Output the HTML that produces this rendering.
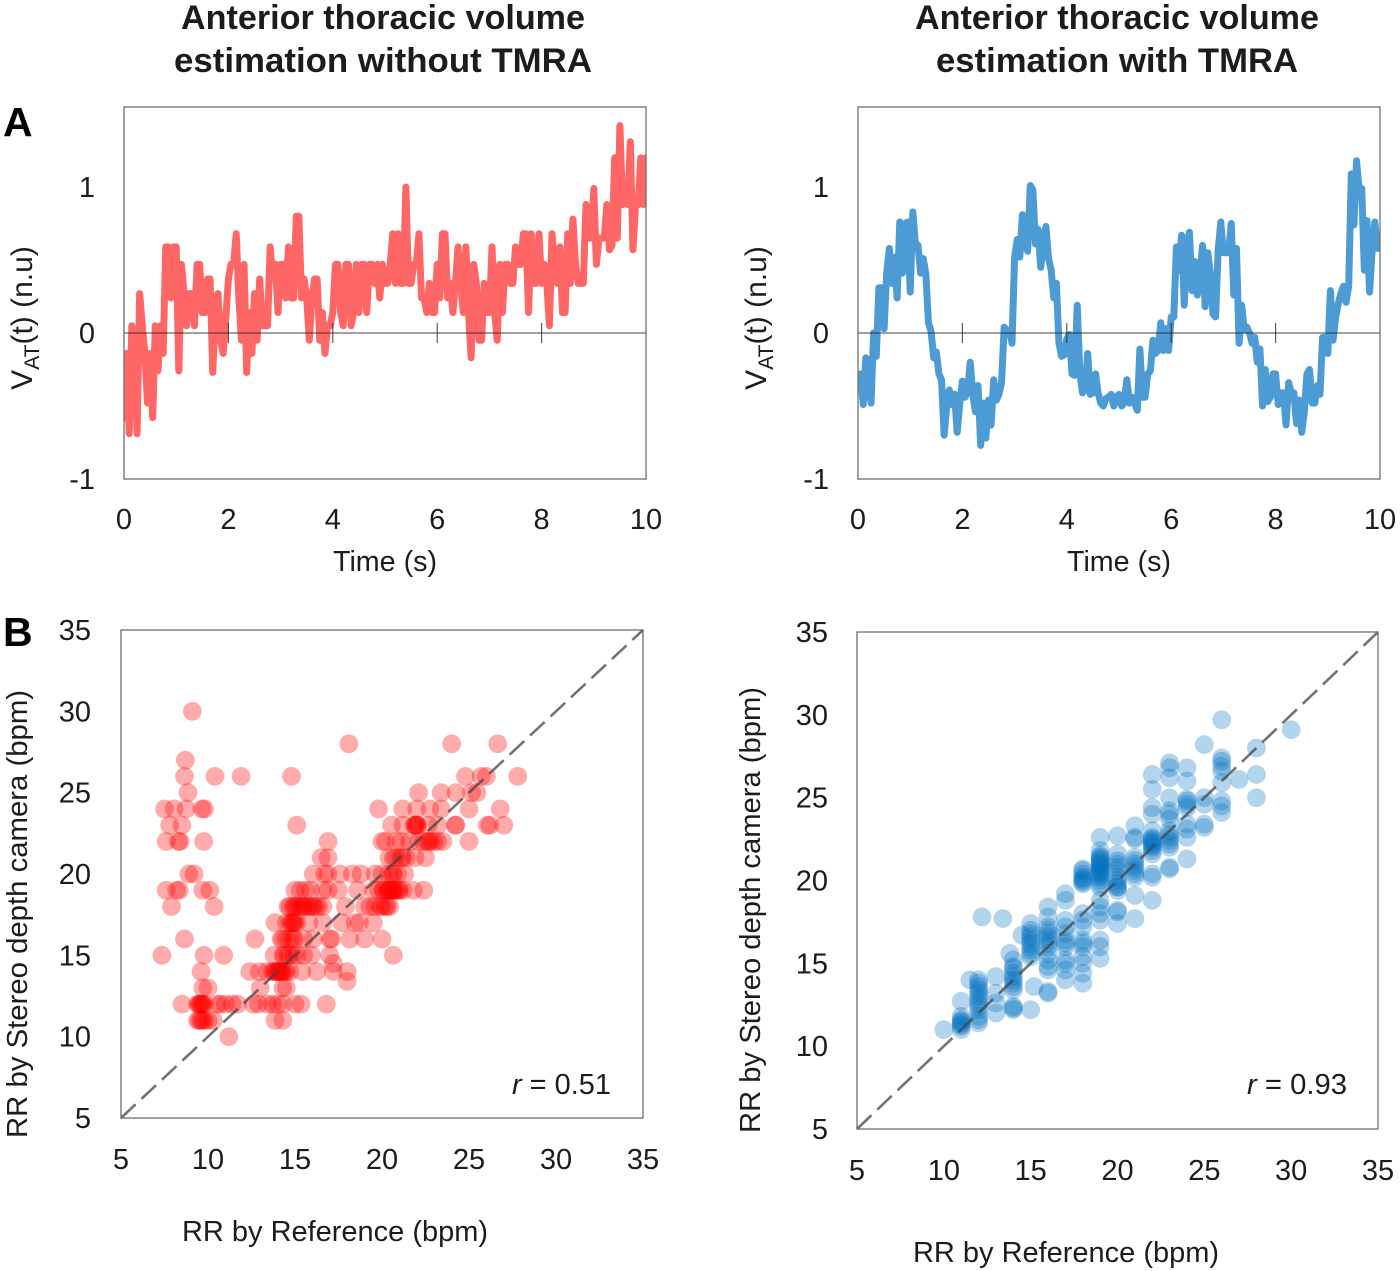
<!DOCTYPE html>
<html lang="en">
<head>
<meta charset="utf-8">
<title>Anterior thoracic volume estimation</title>
<style>
html,body{margin:0;padding:0;background:#fff;}
svg{display:block;}
text{font-family:"Liberation Sans",sans-serif;fill:#1c1c1c;}
.title{font-size:34px;font-weight:bold;text-anchor:middle;}
.axis-title{font-size:29px;text-anchor:middle;}
.panel-letter{font-size:41px;font-weight:bold;fill:#000;}
.r-note{font-size:29px;}
</style>
</head>
<body>
<svg id="figure" xmlns="http://www.w3.org/2000/svg" width="1400" height="1271" viewBox="0 0 1400 1271">
  <defs>
    <clipPath id="clip-a-left"><rect x="124" y="107" width="522" height="372"/></clipPath>
    <clipPath id="clip-a-right"><rect x="858" y="107" width="522" height="372"/></clipPath>
  </defs>
  <g id="layer-marks"></g>

  <text class="title" x="383" y="29" textLength="404" lengthAdjust="spacingAndGlyphs">Anterior thoracic volume</text>
  <text class="title" x="383" y="72" textLength="418" lengthAdjust="spacingAndGlyphs">estimation without TMRA</text>
  <text class="title" x="1117" y="29" textLength="404" lengthAdjust="spacingAndGlyphs">Anterior thoracic volume</text>
  <text class="title" x="1117" y="72" textLength="362" lengthAdjust="spacingAndGlyphs">estimation with TMRA</text>

  <text class="panel-letter" x="3" y="136">A</text>
  <text class="panel-letter" x="3" y="646">B</text>

  <text class="axis-title" x="385" y="571" textLength="104" lengthAdjust="spacingAndGlyphs">Time (s)</text>
  <text class="axis-title" x="1119" y="571" textLength="104" lengthAdjust="spacingAndGlyphs">Time (s)</text>
  <text class="axis-title" transform="translate(32,318) rotate(-90)" style="font-size:30px">V<tspan dy="7" style="font-size:21px">AT</tspan><tspan dy="-7">(t) (n.u)</tspan></text>
  <text class="axis-title" transform="translate(766,318) rotate(-90)" style="font-size:30px">V<tspan dy="7" style="font-size:21px">AT</tspan><tspan dy="-7">(t) (n.u)</tspan></text>

  <text class="axis-title" x="335" y="1241" textLength="306" lengthAdjust="spacingAndGlyphs">RR by Reference (bpm)</text>
  <text class="axis-title" x="1066" y="1262" textLength="306" lengthAdjust="spacingAndGlyphs">RR by Reference (bpm)</text>
  <text class="axis-title" transform="translate(27,914) rotate(-90)" textLength="448" lengthAdjust="spacingAndGlyphs">RR by Stereo depth camera (bpm)</text>
  <text class="axis-title" transform="translate(760,910) rotate(-90)" textLength="446" lengthAdjust="spacingAndGlyphs">RR by Stereo depth camera (bpm)</text>

  <text class="r-note" x="512" y="1094" textLength="99" lengthAdjust="spacingAndGlyphs"><tspan font-style="italic">r</tspan> = 0.51</text>
  <text class="r-note" x="1247" y="1094" textLength="100" lengthAdjust="spacingAndGlyphs"><tspan font-style="italic">r</tspan> = 0.93</text>
</svg>

<script>
// ---- Panel A data: volume signal sampled uniformly over the time span ----
const timeSpan = 10;
const timeTicks = [0, 2, 4, 6, 8, 10];
const volumeTicks = [-1, 0, 1];

const volumeWithoutTmra = [
  -.58,-.14,-.69,.05,-.14,-.69,.27,.05,-.14,-.48,
  -.14,-.58,.05,-.26,.05,-.14,.59,.59,.24,.59,
  .59,-.26,.47,.27,.05,.27,.27,.05,.47,.47,
  .14,.14,.37,.37,-.27,.14,.27,-.05,-.14,.1,
  .37,.47,.47,.68,.24,-.05,.47,-.27,.14,-.14,
  .27,-.05,.37,.05,.05,.05,.59,.37,.47,.14,
  .47,.47,.24,.59,.24,.24,.8,.8,.24,.37,
  .24,-.05,.24,.37,.37,-.05,.14,-.14,.05,.05,
  .14,.47,.47,.14,.05,.47,.47,.05,.14,.47,
  .14,.47,.47,.14,.47,.47,.34,.47,.24,.47,
  .34,.34,.47,.68,.34,.68,.34,.34,1,.34,
  .34,.47,.47,.68,.24,.24,.14,.34,.14,.14,
  .47,.24,.68,.68,.24,.34,.14,.34,.59,.34,
  .14,.59,.14,-.17,.47,.34,-.05,-.05,.34,.14,
  .14,.59,.14,-.05,.47,.14,.47,.47,.34,.34,
  .59,.47,.47,.68,.68,.14,.68,.34,.34,.68,
  .34,.47,.34,.05,.68,.47,.34,.59,.14,.14,
  .68,.34,.78,.47,.34,.34,.34,.88,.65,.65,
  .99,.47,.65,.65,.65,.88,.57,.6,1.2,.65,
  1.42,.88,.99,.88,1.31,.57,.88,.88,1.2,.88,1.2
];

const volumeWithTmra = [
  -.3,-.28,-.49,-.17,-.3,-.48,0,-.16,.31,.31,
  .03,.41,.58,.34,.52,.24,.76,.41,.75,.76,
  .28,.83,.61,.6,.41,.51,.4,.07,.01,-.17,
  -.13,-.28,-.32,-.7,-.5,-.39,-.49,-.42,-.68,-.48,
  -.33,-.44,-.4,-.2,-.42,-.54,-.36,-.77,-.48,-.72,
  -.46,-.63,-.32,-.46,-.42,-.34,.04,.02,.02,-.07,
  .52,.64,.52,.81,.66,.56,1.01,.98,.61,.71,
  .45,.61,.73,.51,.43,.24,.34,-.07,-.16,-.15,
  -.04,-.01,-.28,-.29,.19,-.28,-.41,-.39,-.14,-.42,
  -.41,-.28,-.41,-.48,-.5,-.45,-.44,-.42,-.5,-.44,
  -.42,-.5,-.48,-.32,-.48,-.44,-.48,-.53,-.11,-.44,
  -.44,-.28,-.26,-.05,-.14,-.12,.07,-.12,.03,-.12,
  .11,.11,.59,.43,.67,.19,.59,.69,.29,.49,
  .26,.39,.6,.18,.55,.41,.13,.11,.57,.76,
  .55,.55,.55,.75,.26,.58,-.07,.19,.02,.04,
  0,-.07,-.03,-.2,-.11,-.5,-.25,-.47,-.44,-.28,
  -.28,-.49,-.41,-.41,-.63,-.34,-.41,-.41,-.62,-.46,
  -.68,-.54,-.28,-.25,-.48,-.48,-.36,-.42,-.03,-.03,
  -.14,.29,-.05,.11,.2,.27,.32,.21,.32,1.09,
  .74,1.18,.98,.99,.43,.77,.28,.57,.76,.58,.58
];

// ---- Panel B data ----
const rateTicks = [5, 10, 15, 20, 25, 30, 35];
const identityLine = [5, 35];

// Left scatter: stereo-camera readings and the reference values seen at each reading
const redStereoLevels = [30, 28, 27, 26, 25, 24, 23, 22, 21, 20, 19, 18, 17, 16, 15, 14.5, 14, 13.4, 13, 12, 11, 10];
const redReferenceAtLevel = [
  [9.1],
  [18.1, 24, 26.65],
  [8.7],
  [8.65, 10.4, 11.9, 14.8, 24.8, 25.7, 26, 27.8],
  [8.85, 22.1, 23.4, 24.25, 25.15, 25.45],
  [7.5, 8.05, 8.75, 9.65, 9.8, 19.8, 21.2, 22, 22.75, 23.4, 25, 26.8],
  [7.8, 8.5, 15.1, 20.55, 21.2, 21.85, 21.9, 21.95, 22, 22.05, 22.65, 23.2, 24.2, 24.25, 26.05, 26.2, 27],
  [7.6, 8.3, 8.4, 9.75, 16.9, 20, 20.2, 20.8, 21.1, 21.6, 22.1, 22.4, 22.6, 22.7, 22.8, 23, 23.2, 23.5, 25],
  [16.5, 16.9, 20.4, 20.65, 20.8, 21.1, 21.2, 21.4, 21.9, 22.5],
  [8.9, 9.2, 16.05, 16.7, 16.9, 17.6, 18.3, 18.8, 19.6, 20, 20.4, 20.6, 20.65, 20.9, 21.3],
  [7.6, 8.2, 8.35, 9.7, 10.1, 15, 15.3, 15.6, 15.9, 16.6, 16.9, 17.5, 18.6, 19.5, 19.8, 20.05, 20.1, 20.3, 20.35, 20.4, 20.5, 20.6, 20.65, 20.7, 20.8, 20.95, 21, 21.2, 21.8, 22.4],
  [7.9, 10.35, 14.6, 14.7, 14.9, 15, 15.1, 15.3, 15.4, 15.5, 15.6, 15.8, 16, 16.05, 16.2, 16.35, 16.6, 17.9, 19, 19.3, 19.6, 19.9, 20, 20.2, 20.3, 20.45],
  [13.85, 14.5, 14.7, 14.8, 14.9, 14.9, 15, 15.1, 15.8, 16.6, 17.7, 18.45, 18.7, 19.5],
  [8.65, 12.7, 14.2, 14.3, 14.5, 14.7, 14.9, 15, 15.5, 16.05, 17, 17.1, 18.15, 19, 20],
  [7.35, 9.77, 10.9, 13.8, 14.3, 14.4, 14.6, 14.7, 14.9, 15.1, 15.5, 15.95, 17, 20.65],
  [17.2],
  [9.6, 12.4, 12.95, 13.4, 13.7, 13.8, 13.9, 14, 14, 14.1, 14.2, 14.2, 14.3, 14.4, 14.5, 14.7, 15.4, 16.25, 17.2, 18],
  [18],
  [9.7, 10, 13, 14.3, 14.5],
  [8.5, 9.4, 9.5, 9.5, 9.6, 9.65, 9.7, 9.8, 10.5, 10.7, 11, 11.4, 11.7, 12.6, 12.9, 13.4, 13.7, 14, 14.3, 15, 15.35, 16.8],
  [9.4, 9.5, 9.6, 9.7, 9.8, 10, 10.3, 13.85, 14.3],
  [11.2]
];

// Right scatter: reference values and the stereo-camera readings seen at each value
const blueReferenceLevels = [10, 11, 11.5, 12, 12.2, 13, 13.4, 13.8, 14, 14.5, 15, 15.2, 16, 17, 18, 19, 20, 21, 22, 23, 24, 25, 26, 27, 28, 30];
const blueStereoAtLevel = [
  [11],
  [11, 11.2, 11.3, 11.4, 11.5, 11.6, 11.8, 12.7],
  [14],
  [11.4, 11.6, 11.8, 12.2, 12.4, 12.6, 12.8, 13, 13.2, 13.4, 13.6, 13.8, 14],
  [17.8],
  [12, 12.6, 13.2, 14.2],
  [17.7],
  [15.6],
  [12.2, 12.3, 12.4, 13.4, 13.6, 13.8, 14, 14.2, 14.4, 14.7, 14.8, 15.2],
  [16.7],
  [12.2, 15.4, 15.6, 15.8, 16, 16.2, 16.4, 16.6, 16.8, 17, 17.4],
  [13.6],
  [13.2, 13.3, 14.6, 14.8, 15.2, 15.6, 16, 16.2, 16.4, 16.6, 16.8, 17, 17.2, 17.8, 18.4],
  [14, 14.6, 15, 15.2, 16, 16.2, 16.4, 16.8, 17.2, 17.6, 18.8, 19.2],
  [13.8, 14.4, 15, 15.4, 16, 16.2, 16.4, 17.2, 17.6, 18, 19.8, 19.9, 20, 20.1, 20.2, 20.4, 20.6, 20.7],
  [15.3, 16, 16.4, 17.6, 18, 18.4, 18.8, 19.6, 19.8, 20, 20.2, 20.3, 20.4, 20.5, 20.6, 20.7, 20.8, 20.9, 21, 21.1, 21.2, 21.3, 21.4, 21.5, 21.8, 22.6],
  [17.4, 18.1, 18.2, 19.4, 19.6, 19.6, 19.8, 20, 20.2, 20.6, 20.8, 21, 21.2, 21.6, 22.7],
  [17.7, 19.1, 20.2, 20.4, 20.6, 20.8, 21, 21.2, 21.4, 22.5, 22.6, 23.3],
  [18.8, 20.2, 20.4, 21.6, 21.8, 22, 22.1, 22.2, 22.3, 22.4, 22.5, 22.6, 23, 24, 24.4, 25.5, 26.4],
  [20.7, 20.8, 22, 22.2, 22.4, 22.6, 22.8, 23, 23.7, 24, 24.2, 25, 26.2, 26.8, 27.1],
  [21.3, 22.6, 23.1, 23.4, 24.4, 24.6, 24.8, 24.9, 26, 26.8],
  [23.2, 23.4, 24.6, 25, 28.2],
  [24.1, 24.5, 24.8, 25.9, 26.6, 26.9, 27.2, 27.4, 29.7],
  [26.1],
  [25, 26.4, 28],
  [29.1]
];

// ---- Helpers ----
const NS = 'http://www.w3.org/2000/svg';
const root = document.getElementById('layer-marks');
function node(tag, attrs, parent) {
  const el = document.createElementNS(NS, tag);
  for (const k in attrs) el.setAttribute(k, attrs[k]);
  (parent || root).appendChild(el);
  return el;
}
function scale(d0, d1, p0, p1) {
  return function (v) { return p0 + (v - d0) / (d1 - d0) * (p1 - p0); };
}
const labelStyle = 'font-size:29px;font-family:"Liberation Sans",sans-serif;fill:#1c1c1c';

function drawFrame(x, y, w, h, name) {
  const el = node('rect', {x: x, y: y, width: w, height: h, fill: 'none', stroke: '#6e6e6e', 'stroke-width': 1.3});
  
  
}
function drawTimeSeries(values, color, clipId, x0, prefix) {
  const xT = scale(0, timeSpan, x0, x0 + 522);
  const yV = scale(-1, 1, 479, 187);
  const step = timeSpan / (values.length - 1);
  const d = values.map(function (v, i) {
    return (i ? 'L' : 'M') + xT(i * step).toFixed(2) + ' ' + yV(v).toFixed(2);
  }).join('');
  const line = node('path', {d: d, fill: 'none', stroke: color, 'stroke-width': 7, 'stroke-linejoin': 'round', 'stroke-linecap': 'round', 'clip-path': 'url(#' + clipId + ')'});
  
  

  const zero = node('line', {x1: xT(0), x2: xT(timeSpan), y1: yV(0), y2: yV(0), stroke: '#222', 'stroke-width': 1.1, 'stroke-opacity': .85});
  
  

  timeTicks.forEach(function (t) {
    if (t > 0 && t < timeSpan) {
      const tick = node('line', {x1: xT(t), x2: xT(t), y1: yV(0) - 10, y2: yV(0) + 10, stroke: '#222', 'stroke-width': 1.1, 'stroke-opacity': .8});
      
      
    }
    const lab = node('text', {x: xT(t), y: 529, 'text-anchor': 'middle', style: labelStyle});
    lab.textContent = String(t);
    
    
  });
  volumeTicks.forEach(function (v) {
    const lab = node('text', {x: x0 - 29, y: yV(v) + 10, 'text-anchor': 'end', style: labelStyle});
    lab.textContent = String(v);
    
    
  });
  drawFrame(x0, 107, 522, 372, prefix + '-time-plot-frame');
}
function drawScatterAxes(xS, yS, labelRight, labelBase, prefix) {
  rateTicks.forEach(function (v) {
    const xl = node('text', {x: xS(v), y: labelBase, 'text-anchor': 'middle', style: labelStyle});
    xl.textContent = String(v);
    
    
    const yl = node('text', {x: labelRight, y: yS(v) + 10, 'text-anchor': 'end', style: labelStyle});
    yl.textContent = String(v);
    
    
  });
}
function drawIdentity(xS, yS, prefix) {
  const l = node('line', {x1: xS(identityLine[0]), y1: yS(identityLine[0]), x2: xS(identityLine[1]), y2: yS(identityLine[1]), stroke: '#444', 'stroke-opacity': .75, 'stroke-width': 2.6, 'stroke-dasharray': '20 8'});
  
  
}

// ---- Panel A ----
drawTimeSeries(volumeWithoutTmra, '#ff6666', 'clip-a-left', 124, 'left');
drawTimeSeries(volumeWithTmra, '#4c9bd5', 'clip-a-right', 858, 'right');

// ---- Panel B, left ----
const xRed = scale(5, 35, 121, 643);
const yRed = scale(5, 35, 1118, 630);
redStereoLevels.forEach(function (level, r) {
  redReferenceAtLevel[r].forEach(function (ref) {
    const dot = node('circle', {cx: xRed(ref).toFixed(2), cy: yRed(level).toFixed(2), r: 9.4, fill: 'rgba(255,0,0,0.33)'});
    
    
  });
});
drawIdentity(xRed, yRed, 'left');
drawFrame(121, 630, 522, 488, 'left-scatter-frame');
drawScatterAxes(xRed, yRed, 91, 1169, 'left');

// ---- Panel B, right ----
const xBlue = scale(5, 35, 857, 1378);
const yBlue = scale(5, 35, 1129, 632);
blueReferenceLevels.forEach(function (level, c) {
  blueStereoAtLevel[c].forEach(function (stereo) {
    const dot = node('circle', {cx: xBlue(level).toFixed(2), cy: yBlue(stereo).toFixed(2), r: 9.4, fill: 'rgba(0,112,192,0.3)'});
    
    
  });
});
drawIdentity(xBlue, yBlue, 'right');
drawFrame(857, 632, 521, 497, 'right-scatter-frame');
drawScatterAxes(xBlue, yBlue, 828, 1180, 'right');
</script>
</body>
</html>
